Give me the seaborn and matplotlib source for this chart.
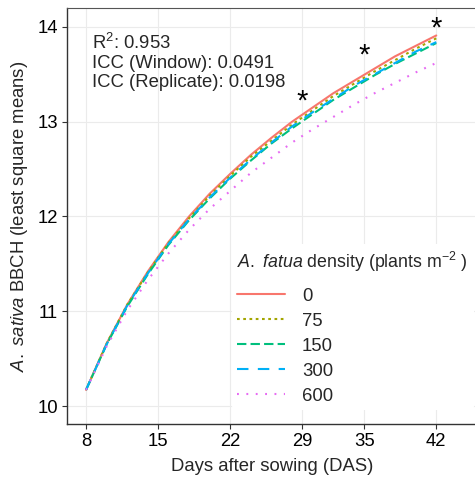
import pandas as pd
import seaborn as sns
import matplotlib.pyplot as plt

# Valores (médias de mínimos quadrados)
days = [8, 10, 12, 14, 16, 18, 20, 22, 24, 26, 28, 30, 32, 34, 36, 38, 40, 42]
bbch_0 = [10.17, 10.66, 11.07, 11.42, 11.73, 12.00, 12.24, 12.45, 12.65, 12.83,
          13.00, 13.15, 13.30, 13.43, 13.56, 13.69, 13.80, 13.91]
bbch_75 = [10.17, 10.66, 11.07, 11.41, 11.72, 11.98, 12.22, 12.43, 12.63, 12.80,
           12.97, 13.12, 13.27, 13.40, 13.53, 13.65, 13.77, 13.88]
bbch_150 = [10.17, 10.65, 11.05, 11.39, 11.70, 11.96, 12.19, 12.40, 12.59, 12.77,
            12.93, 13.08, 13.23, 13.36, 13.49, 13.61, 13.72, 13.83]
bbch_300 = [10.17, 10.65, 11.06, 11.40, 11.71, 11.97, 12.20, 12.41, 12.60, 12.78,
            12.95, 13.10, 13.24, 13.38, 13.50, 13.62, 13.74, 13.84]
bbch_600 = [10.17, 10.63, 11.01, 11.33, 11.61, 11.86, 12.08, 12.27, 12.46, 12.62,
            12.78, 12.92, 13.05, 13.18, 13.30, 13.41, 13.52, 13.62]
densities = ['0', '75', '150', '300', '600']
x_ticks = [8, 15, 22, 29, 35, 42]
star_days = [29, 35, 42]
star_y = [13.27, 13.76, 14.04]
stats_lines = ['R$^2$: 0.953', 'ICC (Window): 0.0491', 'ICC (Replicate): 0.0198']

series = dict(zip(densities, [bbch_0, bbch_75, bbch_150, bbch_300, bbch_600]))
df = pd.concat([pd.DataFrame({'das': days, 'bbch': v, 'density': k})
                for k, v in series.items()])

sns.set_style('white')
plt.rcParams['font.family'] = ['Liberation Sans', 'DejaVu Sans']
plt.rcParams['mathtext.fontset'] = 'custom'
plt.rcParams['mathtext.rm'] = 'Liberation Sans'
plt.rcParams['mathtext.it'] = 'Liberation Sans:italic'

fs = 13.3
palette = dict(zip(densities, ['#F8766D', '#A3A500', '#00BF7D', '#00B0F6', '#E76BF3']))
dashes = {'0': '', '75': (1.3, 1.7), '150': (4.5, 2.0), '300': (5.5, 4.5), '600': (0.9, 3.6)}

fig = plt.figure(figsize=(4.75, 4.82), dpi=100)
ax = fig.add_axes([0.141, 0.1203, 0.862, 0.8631])

sns.lineplot(data=df, x='das', y='bbch', hue='density', style='density',
             palette=palette, dashes=dashes, hue_order=densities, style_order=densities,
             linewidth=1.5, ax=ax)

# asteriscos de significância
for d, y in zip(star_days, star_y):
    ax.annotate('*', (d, y), xytext=(0, -4), textcoords='offset points',
                fontsize=21, ha='center', va='center', color='black')

ax.text(0.061, 0.94, '\n'.join(stats_lines), transform=ax.transAxes, fontsize=fs,
        va='top', ha='left', linespacing=1.14)

ax.set_xlim(6.15, 45.9)
ax.set_ylim(9.81, 14.2)
ax.set_xticks(x_ticks)
ax.set_yticks([10, 11, 12, 13, 14])
ax.grid(True, color='#EBEBEB', linewidth=0.8)
ax.set_axisbelow(True)
for s in ['left', 'bottom']:
    ax.spines[s].set_color('#333333')
    ax.spines[s].set_linewidth(1.0)
ax.spines['top'].set_color('#555555')
ax.spines['top'].set_linewidth(0.8)
ax.spines['right'].set_visible(False)
ax.tick_params(axis='both', direction='out', length=3.5, width=0.8, color='#333333',
               labelsize=fs, labelcolor='black', pad=3, left=True, bottom=True)

ax.set_xlabel('Days after sowing (DAS)', fontsize=fs, labelpad=6)
ax.set_ylabel(r'$\it{A.\ sativa}$ BBCH (least square means)', fontsize=fs, labelpad=5)

handles, labels = ax.get_legend_handles_labels()
leg = ax.legend(handles, labels, title=r'$\it{A.\ fatua}$ density (plants m$^{-2}$ )',
                loc='upper left', bbox_to_anchor=(0.488, 0.493),
                bbox_transform=fig.transFigure, fontsize=fs, title_fontsize=12.8,
                frameon=True, facecolor='white', edgecolor='none', framealpha=1,
                borderaxespad=0, borderpad=0.3, labelspacing=0.43, handlelength=2.6,
                handletextpad=0.9, alignment='left')
leg._legend_box.sep = 0.75 * fs
for line in leg.get_lines():
    line.set_linewidth(1.5)

plt.savefig('out.png', dpi=100)
